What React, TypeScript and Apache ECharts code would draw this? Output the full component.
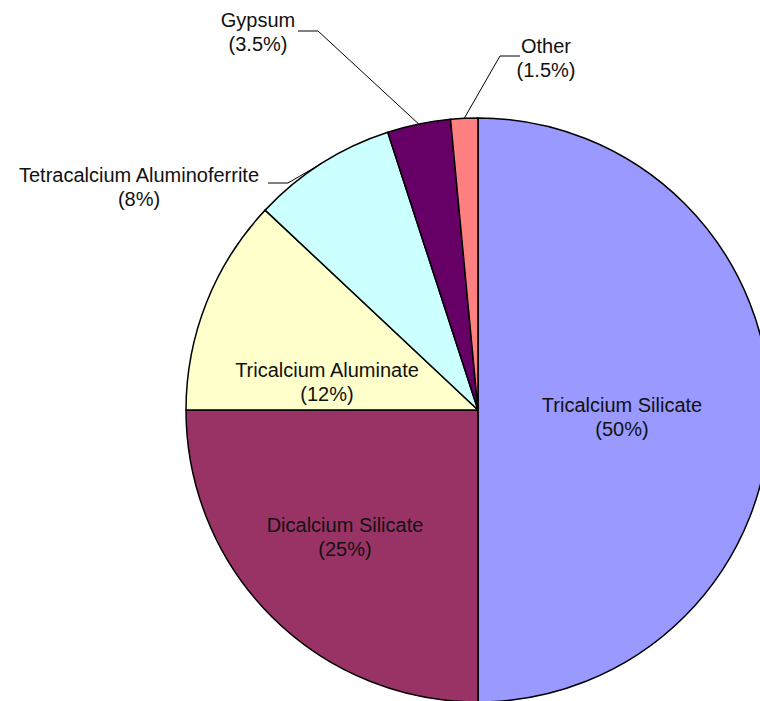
import React, { useEffect, useRef } from "react";
import * as echarts from "echarts";

const categories = [
  "Tricalcium Silicate",
  "Dicalcium Silicate",
  "Tricalcium Aluminate",
  "Tetracalcium Aluminoferrite",
  "Gypsum",
  "Other",
];
const values = [50, 25, 12, 8, 3.5, 1.5];
const colors = ["#9999FF", "#993366", "#FFFFCC", "#CCFFFF", "#660066", "#FF8080"];
const outsideLabel = [false, false, false, true, true, true];

// label anchor placements (layout only)
const labelSpots: Record<number, { x: number; y: number; elbow?: number[]; end?: number[] }> = {
  0: { x: 622, y: 417 },
  1: { x: 345, y: 537 },
  2: { x: 327, y: 382 },
  3: { x: 139, y: 187, elbow: [288, 183], end: [268, 183] },
  4: { x: 258, y: 32, elbow: [318, 31], end: [298, 31] },
  5: { x: 546, y: 58, elbow: [500, 56], end: [520, 56] },
};

export default function App() {
  const ref = useRef<HTMLDivElement>(null);
  useEffect(() => {
    if (!ref.current) return;
    const chart = echarts.init(ref.current, undefined, { renderer: "svg" });
    const data = categories.map((name, i) => ({
      name,
      value: values[i],
      itemStyle: { color: colors[i] },
      label: { position: outsideLabel[i] ? "outside" : "inside" },
      labelLine: { show: outsideLabel[i] },
    }));
    chart.setOption({
      animation: false,
      backgroundColor: "#ffffff",
      series: [
        {
          type: "pie",
          center: [478, 410],
          radius: 292,
          startAngle: 90,
          clockwise: true,
          avoidLabelOverlap: false,
          data,
          itemStyle: { borderColor: "#000000", borderWidth: 1.5 },
          emphasis: { disabled: true },
          label: {
            show: true,
            formatter: "{b}\n({c}%)",
            color: "#111111",
            fontFamily: "Liberation Sans, Arial, sans-serif",
            fontSize: 20,
            lineHeight: 24,
            align: "center",
          },
          labelLine: {
            show: true,
            length: 20,
            length2: 20,
            smooth: false,
            lineStyle: { color: "#000000", width: 1 },
          },
          labelLayout: (params: any) => {
            const s = labelSpots[params.dataIndex];
            if (!s) return {};
            const out: any = { x: s.x, y: s.y, align: "center", verticalAlign: "middle" };
            if (s.elbow && s.end && params.labelLinePoints) {
              out.labelLinePoints = [params.labelLinePoints[0], s.elbow, s.end];
            }
            return out;
          },
        },
      ],
    });
    return () => chart.dispose();
  }, []);
  return (
    <div
      ref={ref}
      style={{ position: "fixed", left: 0, top: 0, width: 760, height: 701 }}
    />
  );
}
